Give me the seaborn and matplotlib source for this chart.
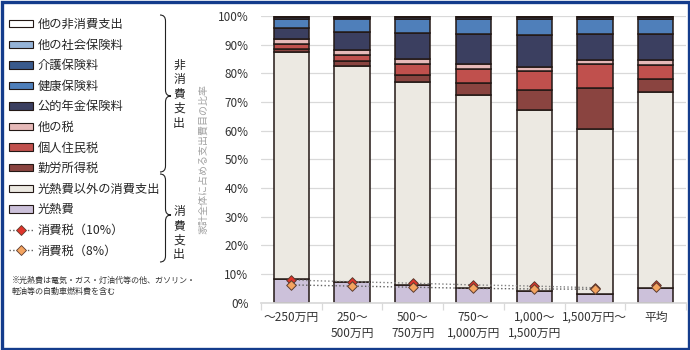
import numpy as np
import matplotlib.pyplot as plt
import seaborn as sns
from matplotlib.patches import Patch, Rectangle, PathPatch
from matplotlib.lines import Line2D
from matplotlib.path import Path

sns.set_theme(style='white')
plt.rcParams['font.family'] = ['Noto Sans CJK JP', 'DejaVu Sans']

# 年収階級
categories = ['～250万円', '250～\n500万円', '500～\n750万円', '750～\n1,000万円',
              '1,000～\n1,500万円', '1,500万円～', '平均']

# 家計全体に占める比率（%） 下から積み上げ順
kounetsu = [8.3, 7.1, 6.1, 5.1, 4.0, 2.9, 5.1]          # 光熱費
kounetsu_igai = [79.2, 75.6, 70.8, 67.2, 63.1, 57.6, 68.3]  # 光熱費以外の消費支出
kinrou = [1.1, 1.5, 2.4, 4.2, 7.0, 14.3, 4.5]            # 勤労所得税
juumin = [1.6, 2.1, 3.8, 5.1, 6.6, 8.3, 4.9]             # 個人住民税
ta_zei = [1.7, 1.9, 2.0, 1.5, 1.4, 1.4, 1.7]             # 他の税
nenkin = [4.0, 6.3, 8.9, 10.5, 11.2, 9.1, 9.1]           # 公的年金保険料
kenkou = [3.2, 4.3, 5.0, 5.2, 5.5, 5.2, 5.2]             # 健康保険料
kaigo = [0.5, 0.6, 0.5, 0.7, 0.7, 0.7, 0.7]              # 介護保険料
ta_shakai = [0.1, 0.1, 0.1, 0.1, 0.1, 0.1, 0.1]          # 他の社会保険料
ta_hishouhi = [0.3, 0.5, 0.4, 0.4, 0.4, 0.4, 0.4]        # 他の非消費支出

# 消費税負担（%）
tax10 = [7.9, 7.3, 6.8, 6.2, 5.8, 5.2, 6.3]
tax8 = [6.2, 5.8, 5.4, 5.0, 4.8, 4.7, 5.4]

series = [
    ('光熱費', kounetsu, '#ccc1da'),
    ('光熱費以外の消費支出', kounetsu_igai, '#ece9e2'),
    ('勤労所得税', kinrou, '#8a4440'),
    ('個人住民税', juumin, '#c0504d'),
    ('他の税', ta_zei, '#e6b9b8'),
    ('公的年金保険料', nenkin, '#3b3f60'),
    ('健康保険料', kenkou, '#4f7fba'),
    ('介護保険料', kaigo, '#3a5a8c'),
    ('他の社会保険料', ta_shakai, '#95b3d7'),
    ('他の非消費支出', ta_hishouhi, '#ffffff'),
]
edge = '#231815'

fig = plt.figure(figsize=(6.9, 3.5), dpi=100)
ax = fig.add_axes([261 / 690, 1 - 302.7 / 350, 425 / 690, 286.7 / 350])

bottom = np.zeros(len(categories))
for name, vals, col in series:
    v = np.array(vals) / 100
    sns.barplot(x=categories, y=v, bottom=bottom, color=col, width=0.58,
                saturation=1, edgecolor=edge, linewidth=1.1, errorbar=None, ax=ax,
                zorder=2)
    bottom += v

pos = np.arange(len(categories))
t10 = np.array(tax10) / 100
t8 = np.array(tax8) / 100
# 点線は平均を除く階級間のみ
ax.plot(pos[:6], t10[:6], ls=':', color='#808080', lw=1.0, zorder=3)
ax.plot(pos[:6], t8[:6], ls=':', color='#606060', lw=1.0, zorder=3)
ax.scatter(pos, t10, marker='D', s=24, color='#e0352b', edgecolor='#5b3b2f',
           linewidth=0.7, zorder=4)
ax.scatter(pos, t8, marker='D', s=24, color='#f4a460', edgecolor='#5b3b2f',
           linewidth=0.7, zorder=5)

ax.set_xlim(-0.5, 6.5)
ax.set_ylim(0, 1)
ax.set_yticks(np.arange(0, 1.01, 0.1))
ax.set_yticklabels([f'{int(round(t * 100))}%' for t in np.arange(0, 1.01, 0.1)])
ax.yaxis.grid(True, color='#d9d9d9', lw=0.9)
ax.set_axisbelow(True)
for s in ['left', 'right', 'top']:
    ax.spines[s].set_visible(False)
ax.spines['bottom'].set_color('#d9d9d9')
ax.set_xticks(pos)
ax.set_xticks(np.arange(-0.5, 7, 1), minor=True)
ax.tick_params(axis='x', which='major', length=0, labelsize=8.5, colors='#333333', pad=6)
ax.tick_params(axis='x', which='minor', length=5, color='#d9d9d9', width=0.9, bottom=True)
ax.tick_params(axis='y', length=0, labelsize=8.5, colors='#333333', pad=9)
for lbl in ax.get_xticklabels():
    lbl.set_linespacing(1.3)
ax.set_xlabel('')
ax.set_ylabel('家計全体に占める支出費目の比率', color='#a0a0a0', fontsize=7.2)
ax.yaxis.set_label_coords(-0.125, 0.5)

# 凡例
handles = [Patch(facecolor=col, edgecolor=edge, linewidth=0.8) for _, _, col in series[::-1]]
labels = [name for name, _, _ in series[::-1]]
handles += [
    Line2D([0], [0], ls=':', color='#606060', lw=1, marker='D', markersize=5,
           markerfacecolor='#e0352b', markeredgecolor='#5b3b2f', markeredgewidth=0.6),
    Line2D([0], [0], ls=':', color='#606060', lw=1, marker='D', markersize=5,
           markerfacecolor='#f4a460', markeredgecolor='#5b3b2f', markeredgewidth=0.6),
]
labels += ['消費税（10%）', '消費税（8%）']
fig.legend(handles, labels, loc='upper left', bbox_to_anchor=(9 / 690, 1 - 18 / 350),
           frameon=False, fontsize=8.8, handlelength=2.0, handleheight=0.55,
           handletextpad=0.35, labelspacing=0.62, borderpad=0, borderaxespad=0)

# 注記・中括弧用のオーバーレイ
ov = fig.add_axes([0, 0, 1, 1], zorder=-1)
ov.set_xlim(0, 690)
ov.set_ylim(350, 0)
ov.axis('off')


def brace(x, y0, y1, ym, w=11, c=6):
    r = w / 2
    verts = [(x, y0), (x + r, y0), (x + r, y0 + c), (x + r, ym - c),
             (x + r, ym), (x + w, ym), (x + r, ym), (x + r, ym + c),
             (x + r, y1 - c), (x + r, y1), (x, y1)]
    codes = [Path.MOVETO, Path.CURVE3, Path.CURVE3, Path.LINETO,
             Path.CURVE3, Path.CURVE3, Path.CURVE3, Path.CURVE3,
             Path.LINETO, Path.CURVE3, Path.CURVE3]
    ov.add_patch(PathPatch(Path(verts, codes), fill=False, edgecolor='#222222', lw=0.8))


brace(160, 15, 172, 96)
brace(160, 174, 262, 215)
ov.text(179, 94, '\n'.join('非消費支出'), fontsize=8.5, ha='center', va='center',
        linespacing=1.15, color='#222222')
ov.text(179, 233, '\n'.join('消費支出'), fontsize=8.5, ha='center', va='center',
        linespacing=1.15, color='#222222')
ov.text(12, 276, '※光熱費は電気・ガス・灯油代等の他、ガソリン・\n軽油等の自動車燃料費を含む',
        fontsize=5.8, ha='left', va='top', linespacing=1.25, color='#333333')
ov.add_patch(Rectangle((1.5, 1.5), 687, 347, fill=False, edgecolor='#143c8c',
                       lw=2.4, clip_on=False))

fig.savefig('out.png', dpi=100)
